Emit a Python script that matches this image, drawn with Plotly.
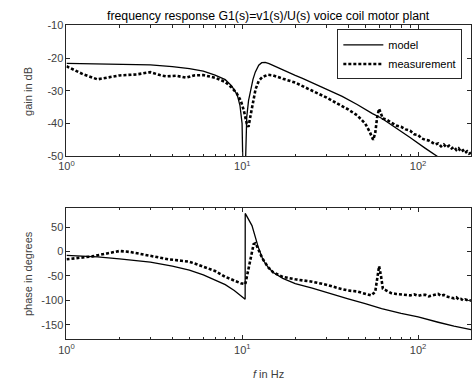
import plotly.graph_objects as go

# ---------------- data ----------------
f_model_gain = [1, 2, 3, 4, 5, 6, 7, 8, 8.7, 9.35, 9.7, 9.97, 10.15, 10.25, 10.3,
                10.38, 10.45, 10.6, 10.85, 11.1, 11.5, 11.85, 12.4, 12.9, 13.5, 14.2,
                15, 17, 20, 22, 26, 30, 37, 45, 55, 62, 75, 90, 110, 128, 150, 200]
model_gain = [-21.6, -21.8, -22.1, -22.6, -23.2, -24.0, -25.2, -26.6, -28.5, -31.2, -34.5,
              -40, -47, -56, -80, -56, -46, -38, -33, -30, -26.5, -24.3, -22.2, -21.4,
              -21.3, -21.7, -22.3, -23.6, -25.3, -26.2, -28, -29.6, -31.7, -34.2, -37,
              -38.4, -41.3, -44.3, -47.6, -50, -52.7, -57]

f_meas_gain = [1, 1.1, 1.25, 1.5, 1.7, 2.0, 2.5, 3.0, 3.4, 3.7, 4.2, 4.8, 5.3, 6, 7, 8,
               8.7, 9.3, 9.8, 10.2, 10.6, 10.85, 11.1, 11.5, 11.9, 12.4, 13, 14, 15, 17,
               20, 25, 30, 35, 40, 45, 50, 53, 55.5, 57, 58.5, 60, 61.5, 63, 66, 70, 75,
               80, 85, 90, 95, 100, 105, 110, 115, 120, 125, 130, 135, 140, 145, 150, 155,
               160, 165, 170, 175, 180, 185, 190, 195, 200]
meas_gain = [-22.5, -23.5, -25, -26.5, -26, -25.3, -25, -24.3, -25.2, -25.6, -25.4, -26.0,
             -25.3, -25.2, -26, -27.3, -29, -30.8, -33, -36, -40, -41, -38, -33, -29.5,
             -27, -25.8, -25.1, -25.3, -26.3, -27.5, -30, -32, -34, -35.7, -37.5, -40,
             -42.5, -45, -43, -38, -35.5, -37, -38.5, -38.8, -39.6, -40.6, -41, -41.8,
             -42.2, -43.3, -43.5, -44.6, -45, -45.2, -45.8, -46.4, -46.1, -47, -46.4,
             -47.3, -46.8, -47.6, -47.2, -48.1, -47.6, -48.6, -48.2, -49, -48.5, -49.2, -48.9]

f_model_phase = [1, 1.5, 2, 3, 4, 5, 6, 7, 8, 9, 10, 10.38, 10.39, 10.8, 11.35, 12.3,
                 13.1, 14, 15, 17, 20, 25, 30, 40, 50, 62, 80, 100, 130, 160, 200]
model_phase = [-8, -11, -15, -22, -30, -38, -48, -59, -68, -80, -93, -98, 78, 68, 53, 10,
               -17, -32, -43, -55, -66, -75, -84, -97, -107, -117, -127, -134, -145, -153, -160]

f_meas_phase = [1, 1.2, 1.4, 1.7, 2.0, 2.3, 2.7, 3.2, 3.8, 4.5, 5.0, 5.5, 6.2, 7, 8, 9,
                9.8, 10.4, 10.6, 10.9, 11.2, 11.6, 11.9, 12.3, 13, 14, 15, 17, 20, 25, 30,
                35, 40, 45, 50, 54, 57, 59, 60, 61.5, 63, 66, 70, 75, 80, 85, 90, 95, 100,
                105, 110, 115, 120, 125, 130, 135, 140, 145, 150, 155, 160, 165, 170, 175,
                180, 185, 190, 195, 200]
meas_phase = [-16, -13, -10, -4, 1, -1, -6, -11, -16, -19, -21, -26, -33, -40, -52, -60,
              -65, -67, -52, -30, -5, 15, 17, 5, -14, -32, -43, -52, -57, -62, -68, -75,
              -80, -82, -87, -90, -83, -40, -30, -50, -76, -80, -85, -87, -88, -89, -90,
              -88, -91, -89, -89, -92, -90, -88, -87, -91, -89, -92, -93, -95, -96, -94,
              -98, -97, -100, -98, -99, -101, -100]

gain_ticks = [-50, -40, -30, -20, -10]
gain_ticklabels = ["-50", "-40", "-30", "-20", "-10"]
phase_ticks = [-150, -100, -50, 0, 50]
phase_ticklabels = ["-150", "-100", "-50", "0", "50"]
x_ticks = [1, 10, 100]
x_ticklabels = ["10<sup>0</sup>", "10<sup>1</sup>", "10<sup>2</sup>"]
minor_ticks = [2, 3, 4, 5, 6, 7, 8, 9, 20, 30, 40, 50, 60, 70, 80, 90, 200]

FONT = "Liberation Sans, Arial, sans-serif"
AX = "#262626"
TXT = "#404040"

fig = go.Figure()
fig.add_trace(go.Scatter(x=f_model_gain, y=model_gain, mode="lines", name="model",
                         line=dict(color="black", width=1.3), xaxis="x", yaxis="y"))
fig.add_trace(go.Scatter(x=f_meas_gain, y=meas_gain, mode="lines", name="measurement",
                         line=dict(color="black", width=2.6, dash="3px,2px"),
                         xaxis="x", yaxis="y"))
fig.add_trace(go.Scatter(x=f_model_phase, y=model_phase, mode="lines", showlegend=False,
                         line=dict(color="black", width=1.3), xaxis="x2", yaxis="y2"))
fig.add_trace(go.Scatter(x=f_meas_phase, y=meas_phase, mode="lines", showlegend=False,
                         line=dict(color="black", width=2.6, dash="3px,2px"),
                         xaxis="x2", yaxis="y2"))

W, H = 473, 387
xdom = [59.5 / W, 471 / W]
xcommon = dict(type="log", range=[0, 2.30103], domain=xdom, showgrid=False, zeroline=False,
               showline=True, linecolor=AX, linewidth=1, mirror="allticks",
               ticks="inside", ticklen=4, tickcolor=AX, tickvals=x_ticks,
               ticktext=x_ticklabels, tickfont=dict(family=FONT, size=11, color=TXT),
               minor=dict(tickvals=minor_ticks, ticks="inside", ticklen=2.5, tickcolor=AX))
ycommon = dict(showgrid=False, zeroline=False, showline=True, linecolor=AX, linewidth=1,
               mirror="allticks", ticks="inside", ticklen=4, tickcolor=AX,
               tickfont=dict(family=FONT, size=11, color=TXT))

fig.update_layout(
    width=W, height=H,
    margin=dict(l=0, r=0, t=0, b=0),
    paper_bgcolor="white", plot_bgcolor="white",
    xaxis=dict(**xcommon, anchor="y"),
    yaxis=dict(**ycommon, range=[-50, -10], tickvals=gain_ticks, ticktext=gain_ticklabels,
               domain=[1 - 155 / H, 1 - 20 / H], anchor="x"),
    xaxis2=dict(**xcommon, anchor="y2"),
    yaxis2=dict(**ycommon, range=[-180, 90], tickvals=phase_ticks, ticktext=phase_ticklabels,
                domain=[1 - 344 / H, 1 - 208 / H], anchor="x2"),
    legend=dict(x=335 / W, y=1 - 50 / H, xanchor="left", yanchor="middle",
                bgcolor="white", bordercolor=AX, borderwidth=1,
                font=dict(family=FONT, size=11, color="black"),
                tracegroupgap=0, itemwidth=40),
    showlegend=True,
    annotations=[
        dict(text="frequency response G1(s)=v1(s)/U(s) voice coil motor plant",
             x=265 / W, y=1 - 10 / H, xref="paper", yref="paper", showarrow=False,
             xanchor="center", yanchor="middle",
             font=dict(family=FONT, size=12.3, color="black")),
        dict(text="gain in dB", x=21 / W, y=1 - 88 / H, xref="paper", yref="paper",
             showarrow=False, textangle=-90, xanchor="center", yanchor="middle",
             font=dict(family=FONT, size=11, color=TXT)),
        dict(text="phase in degrees", x=21 / W, y=1 - 276 / H, xref="paper", yref="paper",
             showarrow=False, textangle=-90, xanchor="center", yanchor="middle",
             font=dict(family=FONT, size=11, color=TXT)),
        dict(text="<i>f</i> in Hz", x=265 / W, y=1 - 380 / H, xref="paper", yref="paper",
             showarrow=False, xanchor="center", yanchor="middle",
             font=dict(family=FONT, size=11, color=TXT)),
    ],
)

fig.write_html("out.html")
